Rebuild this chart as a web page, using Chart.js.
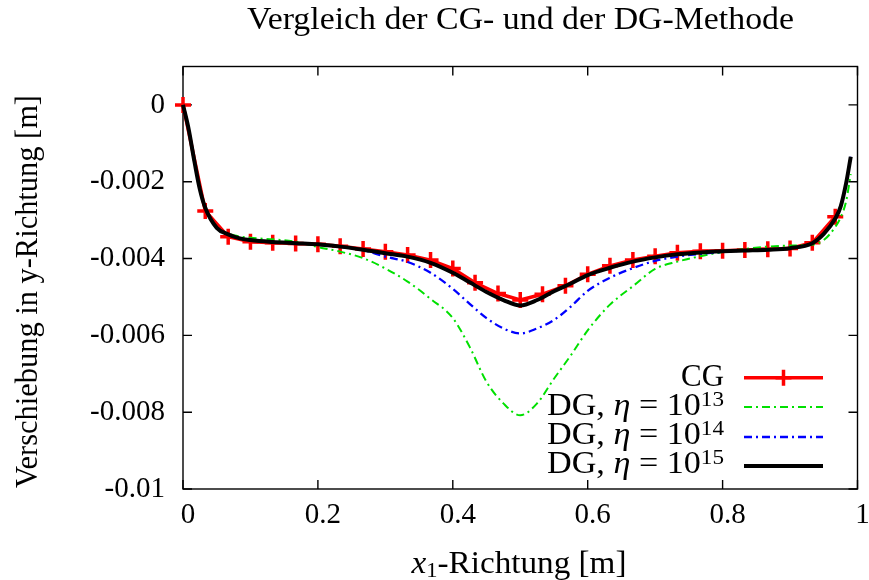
<!DOCTYPE html>
<html><head><meta charset="utf-8">
<script src="https://cdn.jsdelivr.net/npm/chart.js@4.4.1/dist/chart.umd.min.js"></script>
<style>html,body{margin:0;padding:0;background:#fff}canvas{display:block}</style>
</head><body>
<canvas id="c" width="869" height="580"></canvas>
<script>
// ---- texts ----
const titleText = 'Vergleich der CG- und der DG-Methode';
const yAxisTitle = 'Verschiebung in y-Richtung [m]';
const xAxisTitleParts = [{t:'x',it:true},{t:'1',sub:true},{t:'-Richtung [m]'}];
const cgName = 'CG';
const dgPrefix = 'DG, ';
const dgEta = 'η';
const dgMid = ' = 10';
const dgExponents = ['13','14','15'];

// ---- ticks ----
const xTickValues = [0, 0.2, 0.4, 0.6, 0.8, 1];
const xTickLabels = ['0', '0.2', '0.4', '0.6', '0.8', '1'];
const yTickValues = [-0.01, -0.008, -0.006, -0.004, -0.002, 0];
const yTickLabels = ['-0.01', '-0.008', '-0.006', '-0.004', '-0.002', '0'];

// ---- CG series (with markers) ----
const xCG = [0, 0.033, 0.067, 0.1, 0.133, 0.167, 0.2, 0.233, 0.267, 0.3,
             0.333, 0.367, 0.4, 0.433, 0.467, 0.5, 0.533, 0.567, 0.6, 0.633,
             0.667, 0.7, 0.733, 0.767, 0.8, 0.833, 0.867, 0.9, 0.933, 0.967];
const yCG = [0, -0.00276, -0.00343, -0.00356, -0.00359, -0.00361, -0.00363, -0.00368, -0.00375, -0.00382,
             -0.00391, -0.00404, -0.00426, -0.00463, -0.00491, -0.00508, -0.00493, -0.00471, -0.00441, -0.00419,
             -0.00404, -0.00394, -0.00385, -0.00381, -0.0038, -0.00378, -0.00376, -0.00374, -0.00359, -0.00291];

// ---- DG series ----
const xDG = [0, 0.008, 0.017, 0.025, 0.033, 0.05, 0.067, 0.083, 0.1, 0.133,
             0.167, 0.2, 0.233, 0.267, 0.3, 0.333, 0.367, 0.4, 0.425, 0.45,
             0.475, 0.5, 0.525, 0.55, 0.575, 0.6, 0.633, 0.667, 0.7, 0.733,
             0.767, 0.8, 0.833, 0.867, 0.9, 0.933, 0.95, 0.967, 0.975, 0.983, 0.99];
const yDG13 = [0, -0.0006, -0.00148, -0.0022, -0.00266, -0.00318, -0.00335, -0.00342, -0.00346, -0.0035,
               -0.00356, -0.0037, -0.00382, -0.00399, -0.00426, -0.0046, -0.00505, -0.00555, -0.0063, -0.00721,
               -0.00777, -0.00808, -0.00777, -0.00713, -0.00652, -0.00587, -0.0052, -0.00472, -0.00427, -0.00408,
               -0.00394, -0.00383, -0.00375, -0.00369, -0.00366, -0.00364, -0.00352, -0.00318, -0.00293, -0.00252, -0.0018];
const yDG14 = [0, -0.0006, -0.00148, -0.0022, -0.00268, -0.0032, -0.00337, -0.00347, -0.00352, -0.00357,
               -0.0036, -0.00364, -0.00369, -0.00378, -0.00395, -0.00409, -0.00437, -0.00479, -0.00518, -0.00555,
               -0.00582, -0.00595, -0.00582, -0.0056, -0.00525, -0.00484, -0.0045, -0.00425, -0.00406, -0.00395,
               -0.00388, -0.00383, -0.00379, -0.00377, -0.00373, -0.0036, -0.00336, -0.00296, -0.00265, -0.00205, -0.00135];
const yDG15 = [0, -0.0006, -0.00148, -0.0022, -0.00268, -0.0032, -0.00337, -0.00347, -0.00352, -0.00357,
               -0.0036, -0.00363, -0.00369, -0.00377, -0.00386, -0.00395, -0.00411, -0.00437, -0.00462, -0.00487,
               -0.00508, -0.00522, -0.00508, -0.00485, -0.00465, -0.00443, -0.00424, -0.00408, -0.00397, -0.00389,
               -0.00384, -0.00381, -0.00379, -0.00377, -0.00373, -0.0036, -0.00336, -0.00296, -0.00265, -0.00205, -0.00135];

const FONT = '"Liberation Serif", "Times New Roman", serif';
const COL_CG = '#ff0000', COL_13 = '#00e000', COL_14 = '#0000ff', COL_15 = '#000000';
const DASH = [8, 4, 2, 4];

function pts(xs, ys) { return xs.map((x, i) => ({x: x, y: ys[i]})); }

function fontFor(p, size) {
  const s = (p.sub || p.sup) ? Math.round(size * 0.68) : size;
  return (p.it ? 'italic ' : '') + s + 'px ' + FONT;
}
function richWidth(ctx, parts, size) {
  let w = 0;
  for (const p of parts) { ctx.font = fontFor(p, size); w += ctx.measureText(p.t).width; }
  return w;
}
function drawRich(ctx, parts, x, y, size, align, target) {
  const nat = richWidth(ctx, parts, size);
  const sx = target ? target / nat : 1;
  const w = nat * sx;
  const x0 = align === 'right' ? x - w : (align === 'center' ? x - w / 2 : x);
  ctx.save();
  ctx.translate(x0, y);
  ctx.scale(sx, 1);
  ctx.fillStyle = '#000';
  ctx.textAlign = 'left';
  ctx.textBaseline = 'alphabetic';
  let cx = 0;
  for (const p of parts) {
    ctx.font = fontFor(p, size);
    const dy = p.sup ? -size * 0.3 : (p.sub ? size * 0.14 : 0);
    ctx.fillText(p.t, cx, dy);
    cx += ctx.measureText(p.t).width;
  }
  ctx.restore();
}

const gnuplotLook = {
  id: 'gnuplotLook',
  beforeDatasetsDraw(chart) {
    const ctx = chart.ctx, a = chart.chartArea;
    const xs = chart.scales.x, ys = chart.scales.y;
    ctx.save();
    ctx.strokeStyle = '#000';
    ctx.lineWidth = 1.4;
    ctx.strokeRect(a.left, a.top, a.right - a.left, a.bottom - a.top);
    const tl = 9;
    ctx.beginPath();
    for (const v of xTickValues) {
      const px = xs.getPixelForValue(v);
      ctx.moveTo(px, a.bottom); ctx.lineTo(px, a.bottom - tl);
      ctx.moveTo(px, a.top); ctx.lineTo(px, a.top + tl);
    }
    for (const v of yTickValues) {
      const py = ys.getPixelForValue(v);
      ctx.moveTo(a.left, py); ctx.lineTo(a.left + tl, py);
      ctx.moveTo(a.right, py); ctx.lineTo(a.right - tl, py);
    }
    ctx.stroke();
    ctx.restore();
  },
  afterDraw(chart) {
    const ctx = chart.ctx;
    // title
    drawRich(ctx, [{t: titleText}], 520.5, 29, 31, 'center', 547);
    // x axis title
    drawRich(ctx, xAxisTitleParts, 519, 573, 31, 'center', 215);
    // y axis title
    ctx.save();
    ctx.translate(37, 291.5);
    ctx.rotate(-Math.PI / 2);
    drawRich(ctx, [{t: yAxisTitle}], 0, 0, 31, 'center', 393);
    ctx.restore();
    // legend
    const tx = 724, sx0 = 744, sx1 = 823;
    const rows = [
      {parts: [{t: cgName}], base: 386, ly: 377.7, target: 43},
      {parts: [{t: dgPrefix}, {t: dgEta, it: true}, {t: dgMid}, {t: dgExponents[0], sup: true}], base: 415, ly: 407, target: 177},
      {parts: [{t: dgPrefix}, {t: dgEta, it: true}, {t: dgMid}, {t: dgExponents[1], sup: true}], base: 444.3, ly: 437, target: 177},
      {parts: [{t: dgPrefix}, {t: dgEta, it: true}, {t: dgMid}, {t: dgExponents[2], sup: true}], base: 473.3, ly: 466, target: 177}
    ];
    rows.forEach(r => drawRich(ctx, r.parts, tx, r.base, 31, 'right', r.target));
    ctx.save();
    const ds = chart.data.datasets;
    rows.forEach((r, i) => {
      const d = ds[i];
      ctx.strokeStyle = d.borderColor;
      ctx.lineWidth = d.borderWidth;
      ctx.setLineDash(d.borderDash || []);
      ctx.beginPath(); ctx.moveTo(sx0, r.ly); ctx.lineTo(sx1, r.ly); ctx.stroke();
      if (i === 0) {
        ctx.setLineDash([]);
        ctx.lineWidth = d.pointBorderWidth;
        const cx = (sx0 + sx1) / 2, rr = d.pointRadius;
        ctx.beginPath();
        ctx.moveTo(cx - rr, r.ly); ctx.lineTo(cx + rr, r.ly);
        ctx.moveTo(cx, r.ly - rr); ctx.lineTo(cx, r.ly + rr);
        ctx.stroke();
      }
    });
    ctx.restore();
  }
};

new Chart(document.getElementById('c'), {
  type: 'line',
  data: {
    datasets: [
      {label: cgName, data: pts(xCG, yCG), borderColor: COL_CG, borderWidth: 3.5, tension: 0,
       pointStyle: 'cross', pointRadius: 8, pointBorderWidth: 3.5, pointBorderColor: COL_CG,
       pointBackgroundColor: COL_CG, order: 4, clip: false},
      {label: dgPrefix + dgEta + dgMid + dgExponents[0], data: pts(xDG, yDG13), borderColor: COL_13, borderWidth: 2,
       borderDash: DASH, pointRadius: 0, cubicInterpolationMode: 'monotone', order: 3, clip: false},
      {label: dgPrefix + dgEta + dgMid + dgExponents[1], data: pts(xDG, yDG14), borderColor: COL_14, borderWidth: 2.3,
       borderDash: DASH, pointRadius: 0, cubicInterpolationMode: 'monotone', order: 2, clip: false},
      {label: dgPrefix + dgEta + dgMid + dgExponents[2], data: pts(xDG, yDG15), borderColor: COL_15, borderWidth: 4,
       pointRadius: 0, cubicInterpolationMode: 'monotone', order: 1, clip: false}
    ]
  },
  options: {
    responsive: false,
    animation: false,
    events: [],
    layout: {padding: {top: 66.5, right: 10, left: 0, bottom: 0}},
    plugins: {legend: {display: false}, title: {display: false}, tooltip: {enabled: false}},
    scales: {
      x: {
        type: 'linear', min: 0, max: 1,
        afterBuildTicks(s) { s.ticks = xTickValues.map(v => ({value: v})); },
        afterFit(s) { s.height = 91; s.paddingLeft = 0; s.paddingRight = 0; },
        grid: {display: false, drawTicks: false},
        border: {display: false},
        ticks: {callback: (v, i) => xTickLabels[i], font: {family: FONT, size: 29}, color: '#000',
                padding: 9, labelOffset: 5, maxRotation: 0, autoSkip: false}
      },
      y: {
        type: 'linear', min: -0.01, max: 0.001,
        afterBuildTicks(s) { s.ticks = yTickValues.map(v => ({value: v})); },
        afterFit(s) { s.width = 183; s.paddingTop = 0; s.paddingBottom = 0; },
        grid: {display: false, drawTicks: false},
        border: {display: false},
        ticks: {callback: (v, i) => yTickLabels[i], font: {family: FONT, size: 29}, color: '#000',
                padding: 18, autoSkip: false}
      }
    }
  },
  plugins: [gnuplotLook]
});
</script>
</body></html>
